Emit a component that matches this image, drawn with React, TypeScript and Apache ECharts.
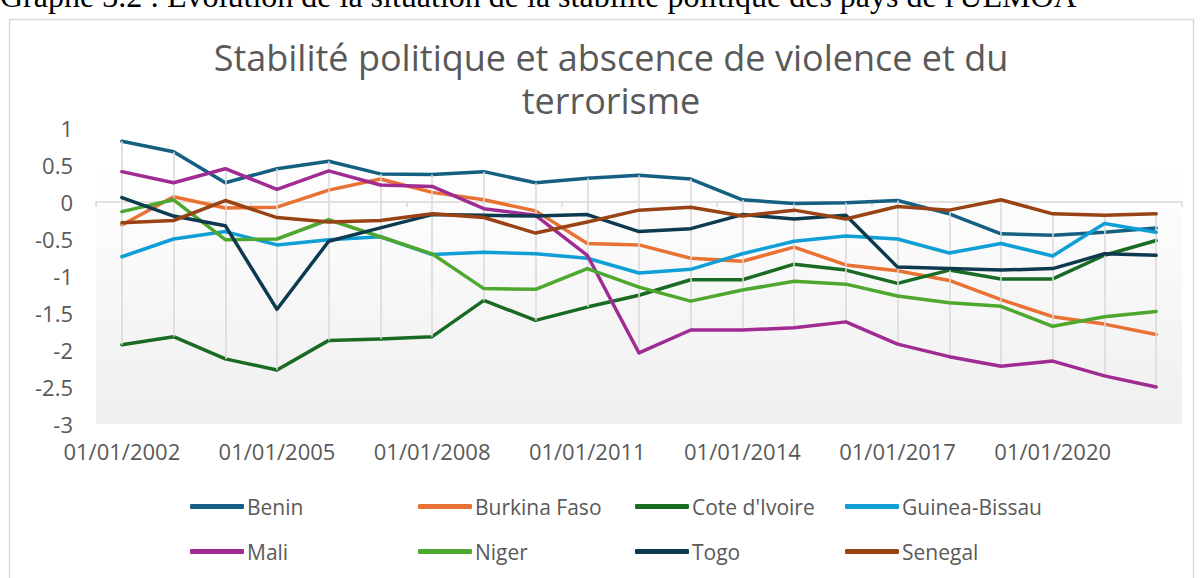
import React, { useEffect, useRef } from "react";
import * as echarts from "echarts";

const years = [2002, 2003, 2004, 2005, 2006, 2007, 2008, 2009, 2010, 2011, 2012, 2013, 2014, 2015, 2016, 2017, 2018, 2019, 2020, 2021, 2022];
const categories = years.map((y) => `01/01/${y}`);
const yTicks = { min: -3, max: 1, interval: 0.5 };

const seriesNames = ["Benin", "Burkina Faso", "Cote d'Ivoire", "Guinea-Bissau", "Mali", "Niger", "Togo", "Senegal"];
const benin = [0.82, 0.68, 0.26, 0.45, 0.55, 0.38, 0.37, 0.41, 0.26, 0.32, 0.36, 0.31, 0.03, -0.02, -0.01, 0.02, -0.16, -0.43, -0.45, -0.41, -0.35];
const burkinaFaso = [-0.31, 0.07, -0.08, -0.07, 0.16, 0.31, 0.13, 0.03, -0.12, -0.56, -0.58, -0.76, -0.8, -0.61, -0.85, -0.93, -1.06, -1.32, -1.55, -1.65, -1.79];
const coteIvoire = [-1.93, -1.82, -2.12, -2.27, -1.87, -1.85, -1.82, -1.33, -1.6, -1.42, -1.26, -1.05, -1.05, -0.84, -0.92, -1.1, -0.92, -1.04, -1.04, -0.72, -0.52];
const guineaBissau = [-0.74, -0.5, -0.4, -0.58, -0.51, -0.47, -0.71, -0.68, -0.7, -0.76, -0.96, -0.91, -0.7, -0.53, -0.46, -0.5, -0.69, -0.56, -0.73, -0.29, -0.41];
const mali = [0.41, 0.26, 0.45, 0.17, 0.42, 0.23, 0.21, -0.09, -0.18, -0.72, -2.04, -1.73, -1.73, -1.7, -1.62, -1.92, -2.09, -2.22, -2.15, -2.35, -2.5];
const niger = [-0.13, 0.03, -0.51, -0.5, -0.24, -0.47, -0.7, -1.17, -1.18, -0.9, -1.15, -1.34, -1.19, -1.07, -1.11, -1.27, -1.36, -1.41, -1.68, -1.55, -1.48];
const togo = [0.06, -0.19, -0.32, -1.45, -0.53, -0.35, -0.17, -0.18, -0.19, -0.17, -0.4, -0.36, -0.17, -0.23, -0.18, -0.88, -0.9, -0.92, -0.9, -0.7, -0.72];
const senegal = [-0.28, -0.25, 0.02, -0.21, -0.27, -0.25, -0.16, -0.21, -0.42, -0.27, -0.11, -0.07, -0.19, -0.11, -0.23, -0.06, -0.11, 0.03, -0.16, -0.18, -0.16];

const seriesValues = [benin, burkinaFaso, coteIvoire, guineaBissau, mali, niger, togo, senegal];
const colors = ["#156082", "#E97132", "#196B24", "#0F9ED5", "#A02B93", "#4EA72E", "#0D3A4E", "#994215"];

const pageTitle = "Graphe 3.2 : Évolution de la situation de la stabilité politique des pays de l'UEMOA";
const chartTitle = "Stabilité politique et abscence de violence et du\nterrorisme";

const FONT = "'Open Sans', 'Liberation Sans', sans-serif";
const legendCols = [185, 413, 630, 840];
const legendRows = [491, 536];

export default function App() {
  const ref = useRef<HTMLDivElement>(null);
  useEffect(() => {
    document.body.style.margin = "0";
    const chart = echarts.init(ref.current!, null, { renderer: "svg" });

    const hiLo = categories.map((c, i) => {
      const vals = seriesValues.map((s) => s[i]);
      return [
        { coord: [c, Math.max(...vals)] },
        { coord: [c, Math.min(...vals)] },
      ];
    });

    const legends = seriesNames.map((name, i) => ({
      data: [name],
      left: legendCols[i % 4],
      top: legendRows[Math.floor(i / 4)],
      icon: "roundRect",
      itemWidth: 54,
      itemHeight: 5,
      selectedMode: false,
      textStyle: { color: "#595959", fontSize: 21, fontFamily: FONT, padding: [0, 0, 0, -2] },
    }));

    chart.setOption({
      animation: false,
      backgroundColor: "#ffffff",
      graphic: [
        {
          type: "rect",
          shape: { x: 9.5, y: 19.5, width: 1184, height: 620 },
          style: { fill: "none", stroke: "#d9d9d9", lineWidth: 1.5 },
          z: -10,
        },
        {
          type: "text",
          x: 0,
          y: 12,
          style: {
            text: pageTitle,
            font: "32px 'Liberation Serif', 'Times New Roman', serif",
            fill: "#000000",
            textAlign: "left",
            textVerticalAlign: "bottom",
          },
        },
        {
          type: "text",
          x: 611,
          y: 78.5,
          style: {
            text: chartTitle,
            font: `36px ${FONT}`,
            lineHeight: 43,
            fill: "#595959",
            textAlign: "center",
            textVerticalAlign: "middle",
          },
        },
      ],
      legend: legends,
      grid: {
        left: 96,
        right: 19,
        top: 128,
        bottom: 154,
        show: true,
        borderWidth: 0,
        backgroundColor: new echarts.graphic.LinearGradient(0, 0, 0, 1, [
          { offset: 0, color: "#ffffff" },
          { offset: 0.12, color: "#ffffff" },
          { offset: 1, color: "#efefef" },
        ]),
      },
      xAxis: [
        {
          type: "category",
          data: categories,
          boundaryGap: true,
          axisLine: { show: true, onZero: true, lineStyle: { color: "#d9d9d9", width: 1.5 } },
          axisTick: { show: true, interval: 2, length: 5, lineStyle: { color: "#d9d9d9", width: 1.5 } },
          axisLabel: { show: false },
          splitLine: { show: false },
        },
        {
          type: "category",
          data: categories,
          position: "bottom",
          boundaryGap: true,
          axisLine: { show: false, onZero: false },
          axisTick: { show: false },
          axisLabel: { show: true, interval: 2, color: "#595959", fontSize: 22, fontFamily: FONT, margin: 16 },
          splitLine: { show: false },
        },
      ],
      yAxis: {
        type: "value",
        min: yTicks.min,
        max: yTicks.max,
        interval: yTicks.interval,
        axisLine: { show: false },
        axisTick: { show: false },
        splitLine: { show: false },
        axisLabel: { color: "#595959", fontSize: 22, fontFamily: FONT, margin: 23 },
      },
      series: [
        {
          name: "hilo",
          type: "line",
          data: [],
          silent: true,
          z: 1,
          markLine: {
            silent: true,
            symbol: "none",
            label: { show: false },
            lineStyle: { color: "#d9d9d9", width: 1.5, type: "solid" },
            data: hiLo,
          },
        },
        ...seriesNames.map((name, i) => ({
          name,
          type: "line",
          data: seriesValues[i],
          color: colors[i],
          symbol: "none",
          z: 2 + i,
          lineStyle: { width: 3.5, color: colors[i], cap: "round", join: "round" },
        })),
      ],
    });
    return () => chart.dispose();
  }, []);
  return <div ref={ref} style={{ position: "fixed", left: 0, top: 0, width: 1201, height: 578 }} />;
}
